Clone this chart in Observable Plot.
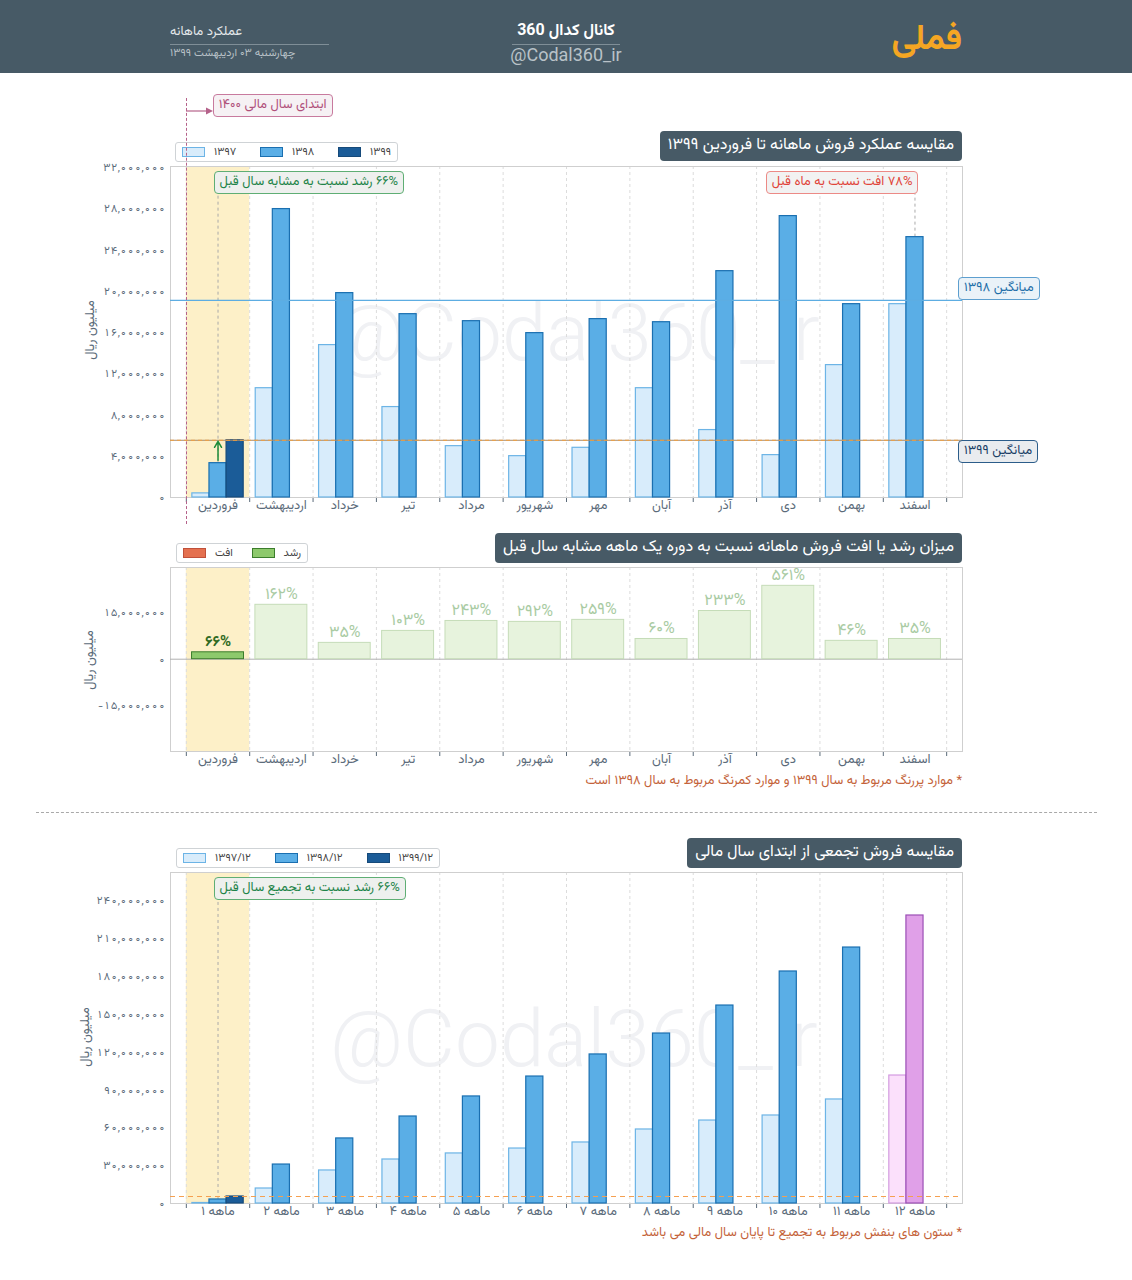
<!DOCTYPE html>
<html><head><meta charset="utf-8">
<script src="https://cdn.jsdelivr.net/npm/d3@7"></script>
<script src="https://cdn.jsdelivr.net/npm/@observablehq/plot@0.6"></script>
<style>
body{margin:0;background:#fff;font-family:"Vazirmatn","Noto Sans Arabic","DejaVu Sans",sans-serif;}
#page{position:relative;width:1132px;height:1280px;overflow:hidden;background:#fff;}
.abs{position:absolute;}
.title{background:#475a66;color:#fff;font-size:16px;border-radius:4px;padding:0 8px;height:30px;line-height:30px;white-space:nowrap;direction:rtl;}
.legend{border:1px solid #cfd3d6;border-radius:3px;background:#fff;height:18px;display:flex;align-items:center;font-size:11px;color:#444;padding:0 6px;direction:ltr;}
.legend span{display:inline-flex;align-items:center;}
.sw{width:21px;height:8px;border:1px solid;display:inline-block;margin-right:9px;}
.note{border:1px solid;border-radius:4px;font-size:13px;padding:0 5px;height:21px;line-height:21px;white-space:nowrap;direction:rtl;}
.wm{font-family:Roboto,sans-serif;font-weight:300;font-size:80px;color:#f0f1f4;white-space:nowrap;}
.ylab{font-size:13px;color:#5b6b7a;transform:translate(-50%,-50%) rotate(-90deg);white-space:nowrap;direction:rtl;}
.cap{font-size:13px;color:#c4633a;direction:rtl;white-space:nowrap;}
svg{overflow:visible;}
</style></head><body><div id="page"></div>
<script>
// ---------- data ----------
const months = ["فروردین","اردیبهشت","خرداد","تیر","مرداد","شهریور","مهر","آبان","آذر","دی","بهمن","اسفند"];
const cumLabels = ["۱ ماهه","۲ ماهه","۳ ماهه","۴ ماهه","۵ ماهه","۶ ماهه","۷ ماهه","۸ ماهه","۹ ماهه","۱۰ ماهه","۱۱ ماهه","۱۲ ماهه"];
const yearLabels = ["۱۳۹۷","۱۳۹۸","۱۳۹۹"];
const cumYearLabels = ["۱۳۹۷/۱۲","۱۳۹۸/۱۲","۱۳۹۹/۱۲"];
const sales1397 = [400000, 10600000, 14780000, 8770000, 4980000, 4010000, 4820000, 10600000, 6540000, 4110000, 12840000, 18750000];
const sales1398 = [3330000, 27970000, 19820000, 17780000, 17100000, 15940000, 17300000, 17000000, 21950000, 27290000, 18750000, 25250000];
const sales1399 = [5550000];
const avg1398 = 19120000;
const avg1399 = 5550000;
const diffValues = [2220000, 17500000, 5250000, 9100000, 12300000, 12000000, 12650000, 6500000, 15500000, 23600000, 5900000, 6500000];
const growthPct = [66, 162, 35, 103, 243, 292, 259, 60, 233, 561, 46, 35];
const cum1397 = [400000, 11900000, 26200000, 34900000, 39700000, 43600000, 48400000, 58700000, 65800000, 69800000, 82500000, 101500000];
const cum1398 = [3200000, 30900000, 51600000, 69000000, 84900000, 100700000, 118200000, 134800000, 157000000, 184000000, 203000000, 228400000];
const cum1399 = [5550000];
const topTicks = [0, 4e6, 8e6, 12e6, 16e6, 20e6, 24e6, 28e6, 32e6];
const midTicks = [-15e6, 0, 15e6];
const botTicks = [0, 30e6, 60e6, 90e6, 120e6, 150e6, 180e6, 210e6, 240e6];

// ---------- helpers ----------
const FONT = '"Vazirmatn","Noto Sans Arabic","DejaVu Sans",sans-serif';
const fa = s => String(s).replace(/[0-9]/g, c => "۰۱۲۳۴۵۶۷۸۹"[c]);
const fmt = d => (d < 0 ? "-" : "") + fa(d3.format(",")(Math.abs(d)));
const page = document.getElementById("page");
function add(cls, css, html) {
  const d = document.createElement("div");
  d.className = "abs " + cls;
  Object.assign(d.style, css);
  d.innerHTML = html || "";
  page.appendChild(d);
  return d;
}
const BLUE_FILL = ["#d8ecfb", "#5aaee6", "#1b5c98"];
const BLUE_STROKE = ["#6cb4e6", "#1a6fb0", "#164a7a"];
const PURPLE_FILL = ["#fbe0fb", "#e0a0e8"];
const PURPLE_STROKE = ["#d39be0", "#9b4fb5"];
const bx1 = d => d.i + 0.095 + d.k * 0.27;
const bx2 = d => d.i + 0.095 + d.k * 0.27 + 0.27;
const rowsOf = arrs => arrs.flatMap((arr, k) => arr.map((v, i) => ({i, k, v})));
const grid = Plot.ruleX(d3.range(13), {stroke: "#dcdcdc", strokeDasharray: "3,3"});
const band = Plot.rect([0], {x1: () => 0, x2: () => 1, fill: "#fdf0c8"});
const frame = Plot.frame({stroke: "#cfcfcf"});
const common = (h, mt, mb) => ({
  width: 1132, height: h, marginTop: mt, marginBottom: mb, marginLeft: 170, marginRight: 170,
  style: {background: "transparent", fontFamily: FONT, fontSize: "11px", color: "#5b6b7a"},
  x: {domain: [-0.25, 12.25], ticks: d3.range(13), tickFormat: () => "", tickSize: 5, label: null}
});
const xLabels = labels => Plot.text(labels, {x: (d, i) => i + 0.5, text: d => d, frameAnchor: "bottom", dy: 11, fontSize: 13, fill: "#5b6b7a"});

// ---------- header ----------
add("", {left: "0px", top: "0px", width: "1132px", height: "73px", background: "#475a66"});
add("", {left: "170px", top: "22px", width: "159px", fontSize: "13px", color: "#e3e7ea", textAlign: "left"}, "<span dir='rtl'>عملکرد ماهانه</span>");
add("", {left: "170px", top: "44px", width: "159px", height: "0px", borderTop: "1px solid #7f8e97"});
add("", {left: "170px", top: "45px", width: "200px", fontSize: "11px", color: "#b8c1c7", textAlign: "left"}, "<span dir='rtl'>چهارشنبه ۰۳ اردیبهشت ۱۳۹۹</span>");
add("", {left: "466px", top: "19px", width: "200px", textAlign: "center", fontSize: "16px", fontWeight: "bold", color: "#fff", direction: "rtl"}, "کانال کدال 360");
add("", {left: "512px", top: "44px", width: "108px", height: "0px", borderTop: "1px solid #7f8e97"});
add("", {left: "466px", top: "44px", width: "200px", textAlign: "center", fontSize: "18px", color: "#b9c2c8", fontFamily: "Roboto,sans-serif"}, "@Codal360_ir");
add("", {right: "170px", top: "13px", fontSize: "35px", fontWeight: "bold", color: "#f5a623", direction: "rtl"}, "فملی");

// ---------- watermarks (behind charts) ----------
add("wm", {left: "332px", top: "286px"}, "@Codal360_ir");
add("wm", {left: "330px", top: "992px"}, "@Codal360_ir");

// ---------- chart 1 ----------
const T1 = 73;
const rows1 = rowsOf([sales1397, sales1398, sales1399]);
const p1 = Plot.plot({
  ...common(457, 93, 33),
  y: {domain: [0, 32.1e6], ticks: topTicks, tickFormat: fmt, tickSize: 0, tickPadding: 5, label: null},
  marks: [
    band, grid, frame,
    Plot.ruleX([0.5], {y1: () => sales1398[0], y2: () => 31e6, stroke: "#aaa", strokeDasharray: "3,3"}),
    Plot.ruleX([11.5], {y1: () => sales1398[11], y2: () => 31e6, stroke: "#aaa", strokeDasharray: "3,3"}),
    Plot.rect(rows1, {x1: bx1, x2: bx2, y1: () => 0, y2: d => d.v, fill: d => BLUE_FILL[d.k], stroke: d => BLUE_STROKE[d.k], strokeWidth: 1.2}),
    Plot.ruleY([avg1398], {stroke: "#5dade2", strokeWidth: 1.2}),
    Plot.ruleY([avg1399], {stroke: "#a98a6a", strokeWidth: 1}),
    Plot.ruleY([avg1399], {stroke: "#f0a040", strokeWidth: 1, strokeDasharray: "4,3"}),
    Plot.arrow([0], {x1: () => 0.5, x2: () => 0.5, y1: () => sales1398[0], y2: () => sales1399[0], stroke: "#1e8c3a", strokeWidth: 1.5, headLength: 7, insetStart: 3, insetEnd: 1}),
    xLabels(months)
  ]
});
const w1 = add("", {left: "0px", top: T1 + "px"});
w1.appendChild(p1);
const sx1 = p1.scale("x"), sy1 = p1.scale("y");

add("title", {right: "170px", top: "131px"}, "مقایسه عملکرد فروش ماهانه تا فروردین ۱۳۹۹");
add("legend", {left: "175px", top: "142px", width: "209px", justifyContent: "space-between"},
  yearLabels.map((l, k) => `<span><i class="sw" style="background:${BLUE_FILL[k]};border-color:${BLUE_STROKE[k]}"></i>${l}</span>`).join(""));
add("note", {left: (sx1.apply(0.5) - 4) + "px", top: "171px", background: "#eef0ee", borderColor: "#5fae74", color: "#1e8449"}, "۶۶% رشد نسبت به مشابه سال قبل");
add("note", {right: (1132 - sx1.apply(11.5) - 4) + "px", top: "171px", background: "#f2f2f2", borderColor: "#ec8a86", color: "#e0453a"}, "۷۸% افت نسبت به ماه قبل");
add("note", {left: "958px", top: (T1 + sy1.apply(avg1398) - 23) + "px", background: "#eaf2f8", borderColor: "#5d9fcf", color: "#1f6fa8", fontSize: "13px"}, "میانگین ۱۳۹۸");
add("note", {left: "958px", top: (T1 + sy1.apply(avg1399)) + "px", background: "#e9ecef", borderColor: "#2c5d8a", color: "#1b3f66", fontSize: "13px"}, "میانگین ۱۳۹۹");
add("ylab", {left: "91px", top: "330px"}, "میلیون ریال");
// fiscal year start marker
const x0 = sx1.apply(0);
add("", {left: x0 + "px", top: "98px", height: "426px", width: "0px", borderLeft: "1px dashed #b5628a"});
add("", {left: x0 + "px", top: "100px"}, `<svg width="28" height="10"><line x1="0" y1="5" x2="22" y2="5" stroke="#b5628a" stroke-width="1.2"/><path d="M20,1.5 L27,5 L20,8.5 Z" fill="#b5628a"/></svg>`);
add("note", {left: (x0 + 27) + "px", top: "94px", background: "#f6f1f4", borderColor: "#c87a9e", color: "#b0507a"}, "ابتدای سال مالی ۱۴۰۰");

// ---------- chart 2 ----------
const T2 = 530;
const rows2 = diffValues.map((v, i) => ({i, v, p: growthPct[i]}));
const p2 = Plot.plot({
  ...common(265, 37, 44),
  y: {domain: [-29.7e6, 29.5e6], ticks: midTicks, tickFormat: fmt, tickSize: 0, tickPadding: 5, label: null},
  marks: [
    band, grid, frame,
    Plot.ruleY([0], {stroke: "#b0b0b0"}),
    Plot.rect(rows2, {x1: d => d.i + 0.09, x2: d => d.i + 0.91, y1: () => 0, y2: d => d.v,
      fill: d => d.i === 0 ? "#8dc96c" : "#e7f3dd", stroke: d => d.i === 0 ? "#3b7d2c" : "#c5dcb8", strokeWidth: 1}),
    Plot.text(rows2.filter(d => d.i > 0), {x: d => d.i + 0.5, y: d => d.v, text: d => fa(d.p) + "%", dy: -11, fontSize: 16, fill: "#a9cba3"}),
    Plot.text(rows2.filter(d => d.i === 0), {x: d => d.i + 0.5, y: d => d.v, text: d => fa(d.p) + "%", dy: -11, fontSize: 15, fontWeight: "bold", fill: "#2f6a22"}),
    xLabels(months)
  ]
});
const w2 = add("", {left: "0px", top: T2 + "px"});
w2.appendChild(p2);
add("title", {right: "170px", top: "533px"}, "میزان رشد یا افت فروش ماهانه نسبت به دوره یک ماهه مشابه سال قبل");
add("legend", {left: "176px", top: "543px", width: "118px", justifyContent: "space-between"},
  `<span><i class="sw" style="background:#e4704f;border-color:#c0503a"></i>افت</span><span><i class="sw" style="background:#8dc96c;border-color:#3b7d2c"></i>رشد</span>`);
add("ylab", {left: "90px", top: "660px"}, "میلیون ریال");
add("cap", {right: "170px", top: "771px"}, "* موارد پررنگ مربوط به سال ۱۳۹۹ و موارد کمرنگ مربوط به سال ۱۳۹۸ است");

// separator
add("", {left: "36px", top: "812px", width: "1061px", height: "0px", borderTop: "1px dashed #a9a9a9"});

// ---------- chart 3 ----------
const T3 = 820;
const rows3 = rowsOf([cum1397, cum1398, cum1399]);
const p3 = Plot.plot({
  ...common(420, 52, 37),
  y: {domain: [0, 262.5e6], ticks: botTicks, tickFormat: fmt, tickSize: 0, tickPadding: 5, label: null},
  marks: [
    band, grid, frame,
    Plot.ruleX([0.5], {y1: () => cum1398[0], y2: () => 255e6, stroke: "#aaa", strokeDasharray: "3,3"}),
    Plot.rect(rows3, {x1: bx1, x2: bx2, y1: () => 0, y2: d => d.v,
      fill: d => d.i === 11 ? PURPLE_FILL[d.k] : BLUE_FILL[d.k], stroke: d => d.i === 11 ? PURPLE_STROKE[d.k] : BLUE_STROKE[d.k], strokeWidth: 1.2}),
    Plot.ruleY([cum1399[0]], {stroke: "#f5a050", strokeWidth: 1, strokeDasharray: "5,4"}),
    xLabels(cumLabels)
  ]
});
const w3 = add("", {left: "0px", top: T3 + "px"});
w3.appendChild(p3);
const sx3 = p3.scale("x");
add("title", {right: "170px", top: "838px"}, "مقایسه فروش تجمعی از ابتدای سال مالی");
add("legend", {left: "176px", top: "848px", width: "250px", justifyContent: "space-between"},
  cumYearLabels.map((l, k) => `<span><i class="sw" style="background:${BLUE_FILL[k]};border-color:${BLUE_STROKE[k]}"></i>${l}</span>`).join(""));
add("note", {left: (sx3.apply(0.5) - 4) + "px", top: "877px", background: "#eef0ee", borderColor: "#5fae74", color: "#1e8449"}, "۶۶% رشد نسبت به تجمیع سال قبل");
add("ylab", {left: "86px", top: "1037px"}, "میلیون ریال");
add("cap", {right: "170px", top: "1223px"}, "* ستون های بنفش مربوط به تجمیع تا پایان سال مالی می باشد");
</script></body></html>
